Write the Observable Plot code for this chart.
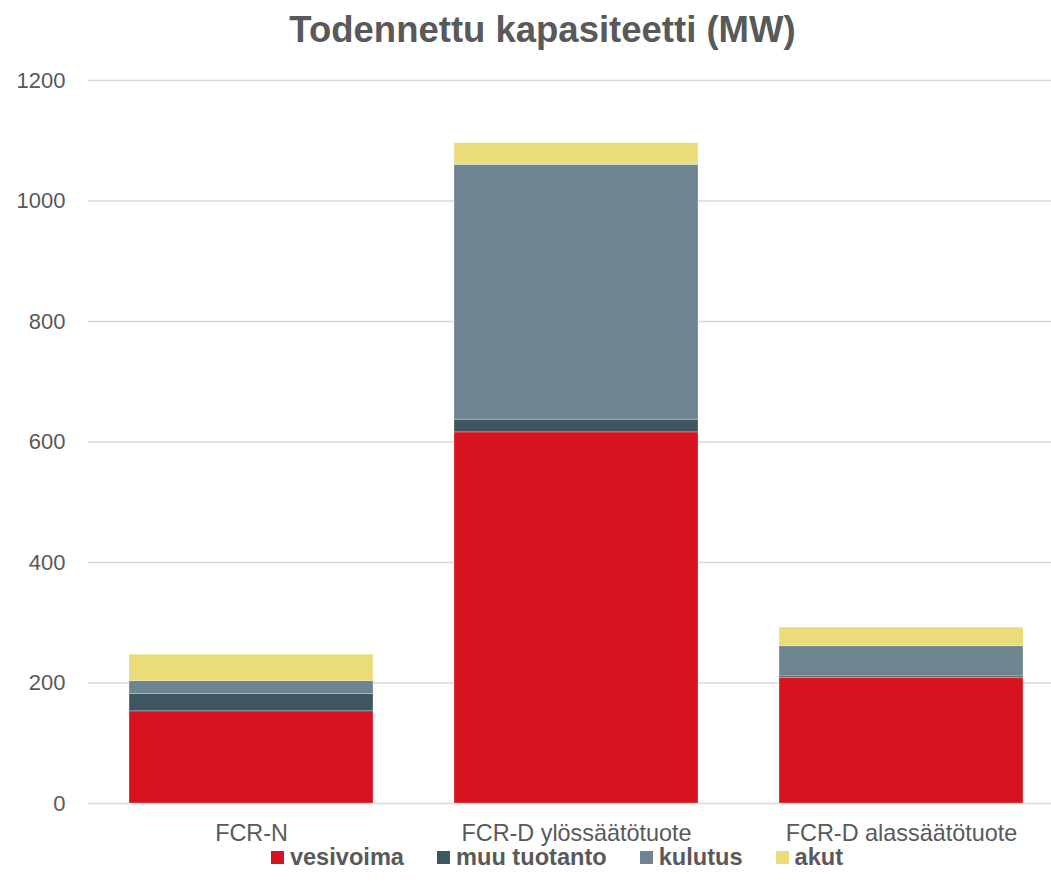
<!DOCTYPE html>
<html>
<head>
<meta charset="utf-8">
<script src="https://cdn.jsdelivr.net/npm/d3@7"></script>
<script src="https://cdn.jsdelivr.net/npm/@observablehq/plot@0.6"></script>
<style>
  html, body { margin: 0; padding: 0; background: #fff; }
  #wrap { position: relative; width: 1051px; height: 896px; overflow: hidden; font-family: "Liberation Sans", Arial, sans-serif; }
  #title { position: absolute; left: 0; width: 1085px; top: 9px; text-align: center; font-weight: bold; font-size: 36.5px; color: #595959; }
  #chart { position: absolute; left: 0; top: 0; }
  #chart svg { max-width: none !important; }
  #legend { position: absolute; left: 0; width: 1114px; top: 844px; display: flex; justify-content: center; gap: 33px; font-weight: bold; font-size: 23.6px; color: #595959; }
  .item { display: flex; align-items: center; gap: 6px; }
  .sw { width: 13px; height: 13px; display: inline-block; }
</style>
</head>
<body>
<div id="wrap">
  <div id="chart"></div>
  <div id="title">Todennettu kapasiteetti (MW)</div>
  <div id="legend"></div>
</div>
<script>
const categories = ["FCR-N", "FCR-D ylössäätötuote", "FCR-D alassäätötuote"];
const seriesNames = ["vesivoima", "muu tuotanto", "kulutus", "akut"];
const vesivoima = [153, 616, 208];
const muuTuotanto = [29, 21, 3];
const kulutus = [21, 423, 50];
const akut = [44, 36, 31];
const seriesColors = ["#D7131F", "#3E5660", "#6E8490", "#E9DC79"];
const yTicks = [0, 200, 400, 600, 800, 1000, 1200];

const seriesValues = [vesivoima, muuTuotanto, kulutus, akut];
const data = [];
seriesNames.forEach((s, i) => {
  categories.forEach((c, j) => data.push({category: c, series: s, value: seriesValues[i][j]}));
});

const chart = Plot.plot({
  width: 1063,
  height: 896,
  marginLeft: 88,
  marginRight: 0,
  marginTop: 80,
  marginBottom: 93,
  style: {fontFamily: "'Liberation Sans', Arial, sans-serif", fontSize: "22px", color: "#595959", background: "transparent", maxWidth: "none"},
  x: {domain: categories, paddingInner: 0.25, paddingOuter: 0.125, label: null},
  y: {domain: [0, 1200], label: null},
  color: {domain: seriesNames, range: seriesColors},
  marks: [
    Plot.ruleY(yTicks, {stroke: "#d9d9d9", strokeWidth: 1.5}),
    Plot.barY(data, {x: "category", y: "value", fill: "series", order: seriesNames, stroke: "#ffffff", strokeOpacity: 0.35, strokeWidth: 0.8}),
    Plot.axisY({ticks: yTicks, tickFormat: d3.format("d"), tickSize: 0, tickPadding: 23, label: null, fill: "#595959", fontSize: 22}),
    Plot.axisX({tickSize: 0, tickPadding: 21, label: null, fill: "#595959", fontSize: 23.4})
  ]
});
chart.style.maxWidth = "none";
document.getElementById("chart").appendChild(chart);

const legend = document.getElementById("legend");
seriesNames.forEach((s, i) => {
  const it = document.createElement("div");
  it.className = "item";
  const sw = document.createElement("span");
  sw.className = "sw";
  sw.style.background = seriesColors[i];
  const t = document.createElement("span");
  t.textContent = s;
  it.appendChild(sw);
  it.appendChild(t);
  legend.appendChild(it);
});
</script>
</body>
</html>
